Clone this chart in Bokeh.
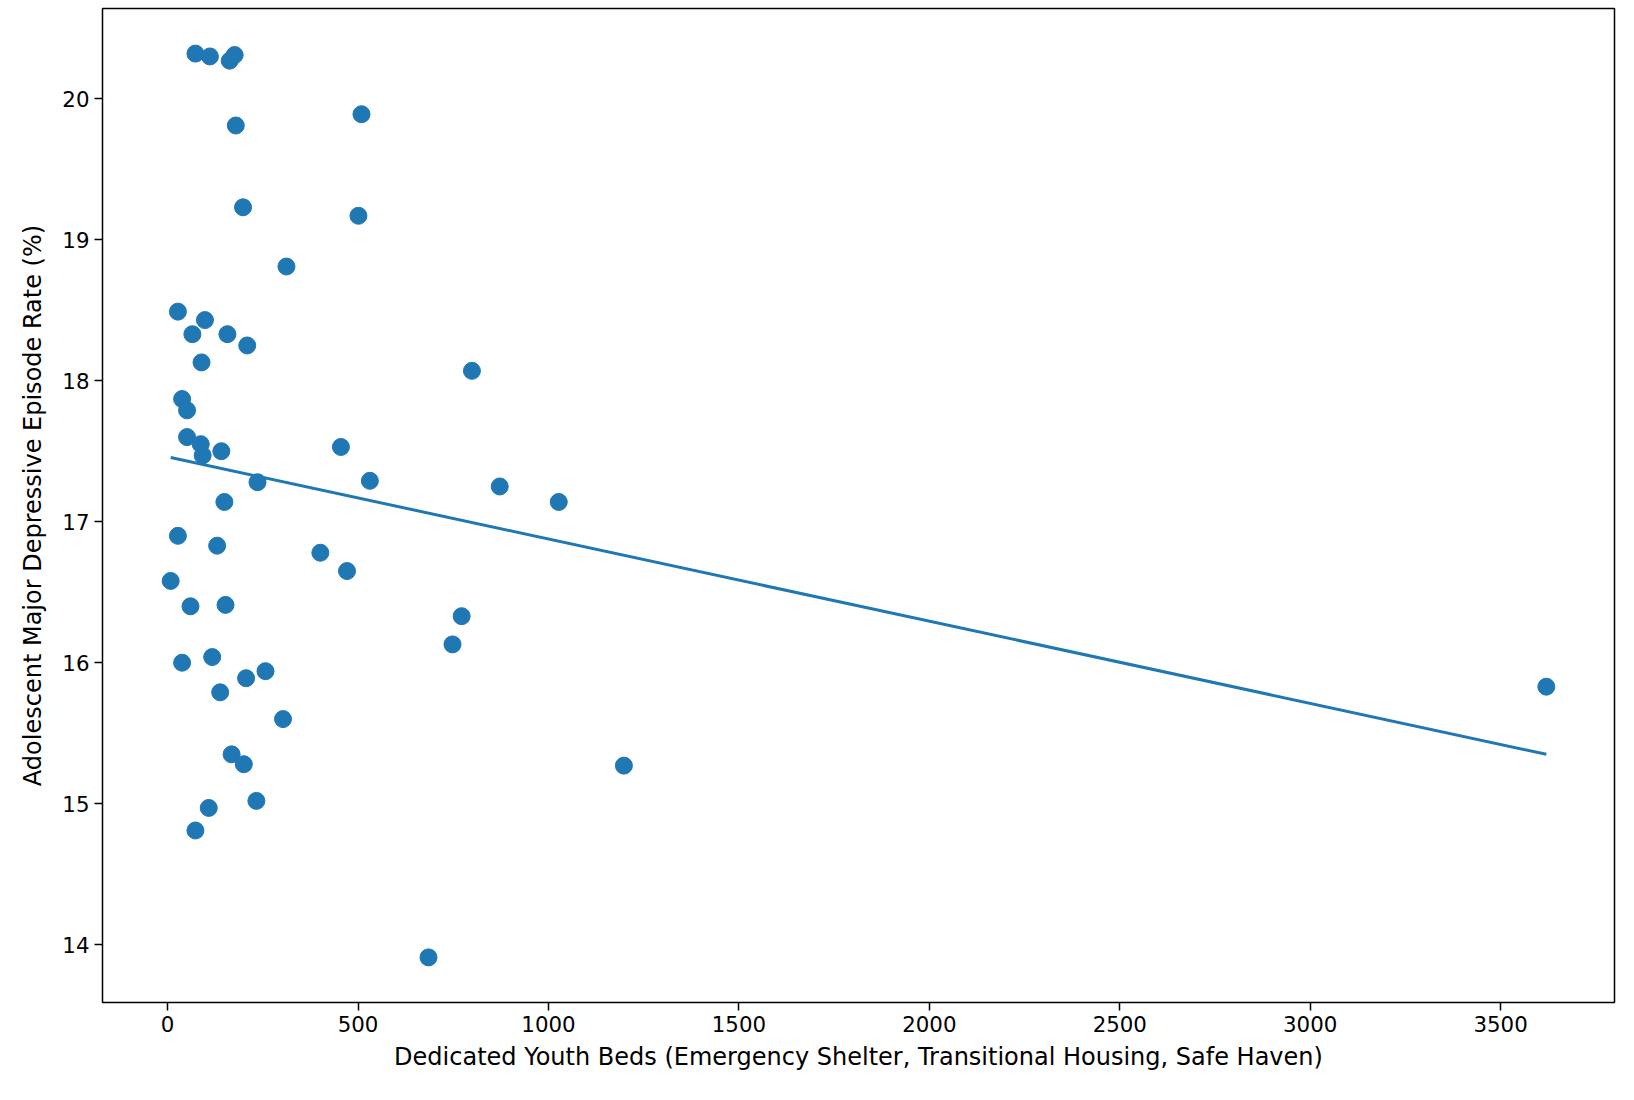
import numpy as np
from bokeh.plotting import figure
from bokeh.models import Range1d, FixedTicker
from bokeh.embed import file_html
from bokeh.resources import INLINE

beds = [73,111,163,176,509,179,198,501,312,27,98,65,157,209,89,799,38,51,51,87,92,141,455,236,531,872,1027,149,27,130,401,471,8,60,152,772,748,38,117,257,206,138,3620,303,168,200,1198,233,108,73,685]
rate = [20.32,20.30,20.27,20.31,19.89,19.81,19.23,19.17,18.81,18.49,18.43,18.33,18.33,18.25,18.13,18.07,17.87,17.79,17.60,17.55,17.47,17.50,17.53,17.28,17.29,17.25,17.14,17.14,16.90,16.83,16.78,16.65,16.58,16.40,16.41,16.33,16.13,16.00,16.04,15.94,15.89,15.79,15.83,15.60,15.35,15.28,15.27,15.02,14.97,14.81,13.91]

x = np.array(beds, float); y = np.array(rate, float)
m, b = np.polyfit(x, y, 1)
lx = np.array([x.min(), x.max()])

p = figure(width=1618, height=1092, output_backend="svg", toolbar_location=None,
           x_range=Range1d(-171, 3799), y_range=Range1d(13.59, 20.64),
           min_border_left=102, min_border_bottom=90, min_border_top=8, min_border_right=4)
p.line(lx, m*lx+b, line_color="#1f77b4", line_width=3)
p.scatter(x, y, size=17, fill_color="#1f77b4", line_color="#1f77b4")
p.xgrid.visible = False; p.ygrid.visible = False
p.outline_line_color = "black"; p.outline_line_width = 1.5
p.xaxis.ticker = FixedTicker(ticks=[0,500,1000,1500,2000,2500,3000,3500])
p.yaxis.ticker = FixedTicker(ticks=[14,15,16,17,18,19,20])
p.xaxis.axis_label = "Dedicated Youth Beds (Emergency Shelter, Transitional Housing, Safe Haven)"
p.yaxis.axis_label = "Adolescent Major Depressive Episode Rate (%)"
for ax in (p.xaxis[0], p.yaxis[0]):
    ax.axis_label_text_font = "DejaVu Sans"; ax.axis_label_text_font_style = "normal"
    ax.axis_label_text_font_size = "18pt"
    ax.major_label_text_font = "DejaVu Sans"; ax.major_label_text_font_size = "16pt"
    ax.major_label_text_color = "black"; ax.axis_label_text_color = "black"
    ax.minor_tick_line_color = None
    ax.major_tick_out = 8; ax.major_tick_in = 0
    ax.axis_line_color = None
    ax.major_tick_line_width = 1.5
p.xaxis.axis_label_standoff = 8
p.yaxis.axis_label_standoff = 12

open("out.html", "w").write(file_html(p, INLINE))
